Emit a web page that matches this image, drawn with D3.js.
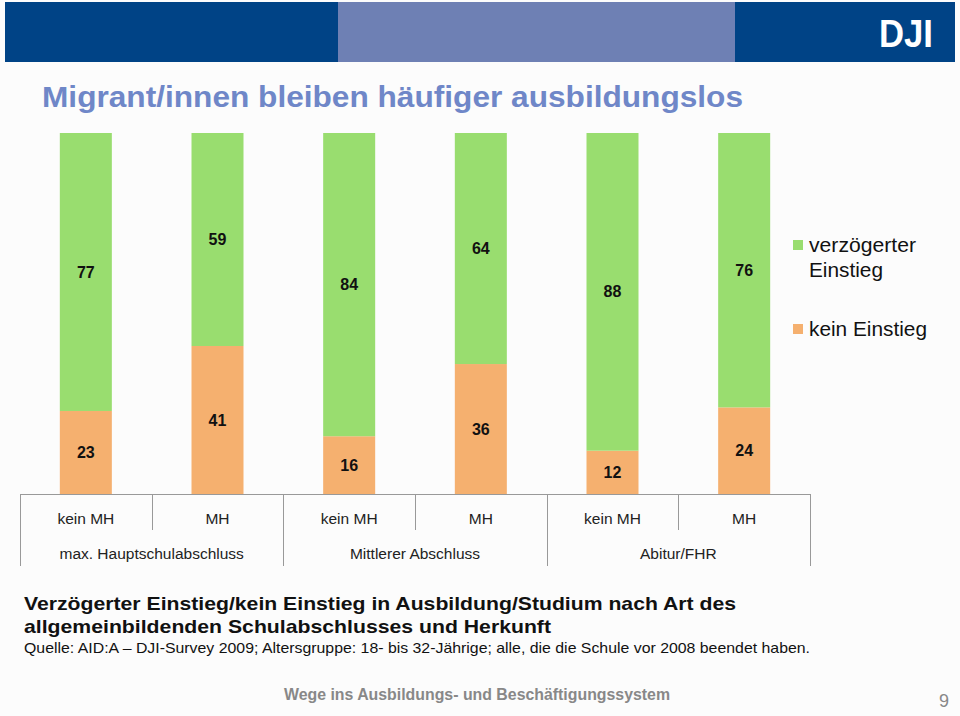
<!DOCTYPE html>
<html><head><meta charset="utf-8">
<script src="https://cdn.jsdelivr.net/npm/d3@7/dist/d3.min.js"></script>
<style>body{margin:0;background:#fcfcfc;}svg{display:block;font-family:"Liberation Sans",Arial,sans-serif;}</style>
</head><body>
<svg id="c" width="960" height="716"></svg>
<script>
const subCategories = ["kein MH","MH","kein MH","MH","kein MH","MH"];
const groups = ["max. Hauptschulabschluss","Mittlerer Abschluss","Abitur/FHR"];
const keinEinstieg = [23,41,16,36,12,24];
const verzoegert = [77,59,84,64,88,76];
const seriesNames = ["verzögerter Einstieg","kein Einstieg"];
const colors = {verz:"#99dd6f", kein:"#f5b06f"};

const svg = d3.select("#c");
svg.append("rect").attr("width",960).attr("height",716).attr("fill","#fcfcfc");
// header
svg.append("rect").attr("x",5).attr("y",2).attr("width",333).attr("height",60).attr("fill","#004386");
svg.append("rect").attr("x",338).attr("y",2).attr("width",397).attr("height",60).attr("fill","#6e80b4");
svg.append("rect").attr("x",735).attr("y",2).attr("width",220).attr("height",60).attr("fill","#004386");
svg.append("text").attr("x",906).attr("y",47).attr("text-anchor","middle").attr("fill","#fff")
  .attr("font-size",38).attr("font-weight","bold").attr("textLength",54).attr("lengthAdjust","spacingAndGlyphs").text("DJI");

svg.append("text").attr("x",42).attr("y",107).attr("fill","#6f87c8").attr("font-size",29).attr("font-weight","bold")
  .attr("textLength",701).attr("lengthAdjust","spacingAndGlyphs").text("Migrant/innen bleiben häufiger ausbildungslos");

const x0 = 20, x1 = 810, yTop = 133, yBase = 494;
const idx = d3.range(subCategories.length);
const x = d3.scaleBand().domain(idx).range([x0,x1]).paddingInner(0.605).paddingOuter(0.3025);
const y = d3.scaleLinear().domain([0,100]).range([yBase,yTop]);

const g = svg.append("g");
idx.forEach(i=>{
  const k = keinEinstieg[i], v = verzoegert[i];
  g.append("rect").attr("x",x(i)).attr("width",x.bandwidth()).attr("y",y(k)).attr("height",y(0)-y(k)).attr("fill",colors.kein);
  g.append("rect").attr("x",x(i)).attr("width",x.bandwidth()).attr("y",y(k+v)).attr("height",y(k)-y(k+v)).attr("fill",colors.verz);
  const cx = x(i)+x.bandwidth()/2;
  g.append("text").attr("x",cx).attr("y",(y(0)+y(k))/2).attr("dy","0.35em").attr("text-anchor","middle")
    .attr("font-size",16).attr("font-weight","bold").attr("fill","#111").text(k);
  g.append("text").attr("x",cx).attr("y",(y(k)+y(k+v))/2).attr("dy","0.35em").attr("text-anchor","middle")
    .attr("font-size",16).attr("font-weight","bold").attr("fill","#111").text(v);
});

// axis
const step = (x1-x0)/subCategories.length;
const ax = svg.append("g").attr("stroke","#999").attr("stroke-width",1);
ax.append("line").attr("x1",x0).attr("x2",x1).attr("y1",yBase+0.5).attr("y2",yBase+0.5);
d3.range(subCategories.length+1).forEach(i=>{
  const xx = Math.round(x0+i*step)+0.5;
  const long = i%2===0;
  ax.append("line").attr("x1",xx).attr("x2",xx).attr("y1",yBase).attr("y2",long?566:530);
});
subCategories.forEach((s,i)=>{
  svg.append("text").attr("x",x0+(i+0.5)*step).attr("y",524).attr("text-anchor","middle")
    .attr("font-size",15.5).attr("fill","#222").text(s);
});
groups.forEach((s,i)=>{
  svg.append("text").attr("x",x0+(2*i+1)*step).attr("y",559).attr("text-anchor","middle")
    .attr("font-size",15.5).attr("fill","#222").text(s);
});

// legend
svg.append("rect").attr("x",793).attr("y",240).attr("width",10).attr("height",10).attr("fill",colors.verz);
svg.append("text").attr("x",809).attr("y",252).attr("font-size",20).attr("fill","#111")
  .attr("textLength",107).attr("lengthAdjust","spacingAndGlyphs").text("verzögerter");
svg.append("text").attr("x",809).attr("y",277).attr("font-size",20).attr("fill","#111")
  .attr("textLength",74).attr("lengthAdjust","spacingAndGlyphs").text("Einstieg");
svg.append("rect").attr("x",793).attr("y",324).attr("width",10).attr("height",10).attr("fill",colors.kein);
svg.append("text").attr("x",809).attr("y",336).attr("font-size",20).attr("fill","#111")
  .attr("textLength",118).attr("lengthAdjust","spacingAndGlyphs").text("kein Einstieg");

// caption
svg.append("text").attr("x",24).attr("y",610).attr("font-size",19).attr("font-weight","bold").attr("fill","#111")
  .attr("textLength",712).attr("lengthAdjust","spacingAndGlyphs").text("Verzögerter Einstieg/kein Einstieg in Ausbildung/Studium nach Art des");
svg.append("text").attr("x",24).attr("y",633).attr("font-size",19).attr("font-weight","bold").attr("fill","#111")
  .attr("textLength",527).attr("lengthAdjust","spacingAndGlyphs").text("allgemeinbildenden Schulabschlusses und Herkunft");
svg.append("text").attr("x",24).attr("y",653).attr("font-size",14.5).attr("fill","#111")
  .attr("textLength",786).attr("lengthAdjust","spacingAndGlyphs").text("Quelle: AID:A – DJI-Survey 2009; Altersgruppe: 18- bis 32-Jährige; alle, die die Schule vor 2008 beendet haben.");
svg.append("text").attr("x",477).attr("y",700).attr("text-anchor","middle").attr("font-size",16).attr("font-weight","bold").attr("fill","#888")
  .attr("textLength",386).attr("lengthAdjust","spacingAndGlyphs").text("Wege ins Ausbildungs- und Beschäftigungssystem");
svg.append("text").attr("x",944).attr("y",707).attr("text-anchor","middle").attr("font-size",18).attr("fill","#888").text("9");
</script>
</body></html>
